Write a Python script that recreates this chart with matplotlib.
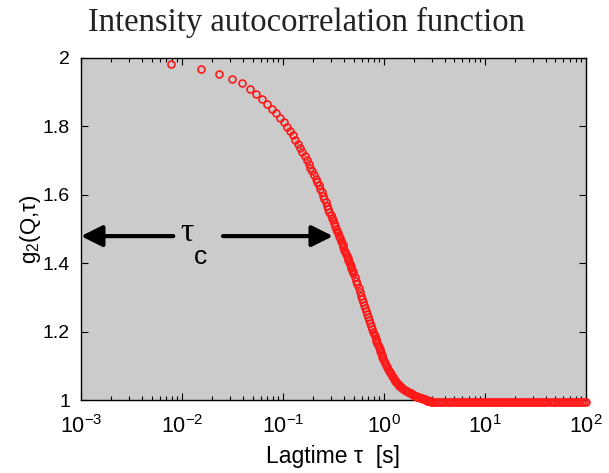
import matplotlib.pyplot as plt
from matplotlib.ticker import LogLocator, FixedLocator, FixedFormatter, NullLocator

plt.rcParams['font.family'] = ['Liberation Sans', 'DejaVu Sans']

# lag times (s) and g2 values
tau_a = [0.0078, 0.0156, 0.0234, 0.0312, 0.0390, 0.0468, 0.0546, 0.0624, 0.0702, 0.0780,
         0.0858, 0.0936, 0.1014, 0.1092, 0.1170, 0.1248, 0.1326, 0.1404, 0.1482, 0.1560,
         0.1638, 0.1716, 0.1794, 0.1872, 0.1950, 0.2028, 0.2106, 0.2184, 0.2262, 0.2340,
         0.2418, 0.2496, 0.2574, 0.2652, 0.2730, 0.2808, 0.2886, 0.2964, 0.3042, 0.3120,
         0.3198, 0.3276, 0.3354, 0.3432, 0.3510, 0.3588, 0.3666, 0.3744, 0.3822, 0.3900,
         0.3978, 0.4056, 0.4134, 0.4212, 0.4290, 0.4368, 0.4446, 0.4524, 0.4602, 0.4680,
         0.4758, 0.4836, 0.4914, 0.4992]
g2_a = [1.983, 1.967, 1.953, 1.939, 1.925, 1.909, 1.894, 1.879, 1.865, 1.851,
        1.838, 1.825, 1.811, 1.798, 1.786, 1.773, 1.760, 1.748, 1.736, 1.724,
        1.712, 1.701, 1.690, 1.679, 1.668, 1.658, 1.647, 1.637, 1.627, 1.617,
        1.607, 1.597, 1.587, 1.578, 1.568, 1.559, 1.550, 1.542, 1.533, 1.525,
        1.517, 1.509, 1.501, 1.494, 1.487, 1.480, 1.473, 1.466, 1.459, 1.452,
        1.446, 1.439, 1.433, 1.427, 1.421, 1.415, 1.409, 1.403, 1.397, 1.391,
        1.386, 1.380, 1.375, 1.370]

tau_b = [0.515, 0.530, 0.546, 0.562, 0.577, 0.593, 0.608, 0.624, 0.640, 0.655,
         0.671, 0.686, 0.702, 0.718, 0.733, 0.749, 0.764, 0.780, 0.796, 0.811,
         0.827, 0.842, 0.858, 0.874, 0.889, 0.905, 0.920, 0.936, 0.952, 0.967, 0.983]
g2_b = [1.359, 1.349, 1.338, 1.327, 1.316, 1.305, 1.296, 1.287, 1.278, 1.269,
        1.261, 1.252, 1.244, 1.235, 1.226, 1.217, 1.209, 1.200, 1.192, 1.186,
        1.179, 1.173, 1.167, 1.160, 1.154, 1.148, 1.143, 1.137, 1.131, 1.126, 1.121]

tau_c = [1.000, 1.025, 1.050, 1.075, 1.100, 1.125, 1.150, 1.175, 1.200, 1.225,
         1.250, 1.275, 1.300, 1.325, 1.350, 1.375, 1.400, 1.425, 1.450, 1.475,
         1.50, 1.55, 1.60, 1.65, 1.70, 1.75, 1.80, 1.85, 1.90, 1.95,
         2.00, 2.05, 2.10, 2.15, 2.20, 2.25, 2.30, 2.35, 2.40, 2.45,
         2.50, 2.55, 2.60, 2.65, 2.70, 2.75, 2.80, 2.85, 2.90, 2.95]
g2_c = [1.115, 1.109, 1.103, 1.097, 1.091, 1.086, 1.081, 1.076, 1.071, 1.067,
        1.063, 1.059, 1.056, 1.053, 1.050, 1.047, 1.044, 1.042, 1.040, 1.038,
        1.036, 1.033, 1.030, 1.028, 1.026, 1.024, 1.022, 1.020, 1.018, 1.016,
        1.014, 1.013, 1.011, 1.010, 1.009, 1.008, 1.007, 1.006, 1.005, 1.004,
        1.003, 1.002, 1.001, 1.000, 0.999, 0.999, 0.998, 0.997, 0.997, 0.996]

tau_d = [3.020, 3.162, 3.311, 3.467, 3.631, 3.802, 3.981, 4.169, 4.365, 4.571,
         4.786, 5.012, 5.248, 5.495, 5.754, 6.026, 6.310, 6.607, 6.918, 7.244,
         7.586, 7.943, 8.318, 8.710, 9.120, 9.550, 10.00, 10.47, 10.96, 11.48,
         12.02, 12.59, 13.18, 13.80, 14.45, 15.14, 15.85, 16.60, 17.38, 18.20,
         19.05, 19.95, 20.89, 21.88, 22.91, 23.99, 25.12, 26.30, 27.54, 28.84,
         30.20, 31.62, 33.11, 34.67, 36.31, 38.02, 39.81, 41.69, 43.65, 45.71,
         47.86, 50.12, 52.48, 54.95, 57.54, 60.26, 63.10, 66.07, 69.18, 72.44,
         75.86, 79.43, 83.18, 87.10, 91.20, 95.50, 100.0]
g2_d = [0.996, 0.996, 0.996, 0.996, 0.996, 0.996, 0.996, 0.996, 0.996, 0.996,
        0.996, 0.996, 0.996, 0.996, 0.996, 0.996, 0.996, 0.996, 0.996, 0.996,
        0.996, 0.996, 0.996, 0.996, 0.996, 0.996, 0.996, 0.996, 0.996, 0.996,
        0.996, 0.996, 0.996, 0.996, 0.996, 0.996, 0.996, 0.996, 0.996, 0.996,
        0.996, 0.996, 0.996, 0.996, 0.996, 0.996, 0.996, 0.996, 0.996, 0.996,
        0.996, 0.996, 0.996, 0.996, 0.996, 0.996, 0.996, 0.996, 0.996, 0.996,
        0.996, 0.996, 0.996, 0.996, 0.996, 0.996, 0.996, 0.996, 0.996, 0.996,
        0.996, 0.996, 0.996, 0.996, 0.996, 0.996, 0.996]

y_ticks = [1.0, 1.2, 1.4, 1.6, 1.8, 2.0]
y_ticklabels = ['1', '1.2', '1.4', '1.6', '1.8', '2']

tau = tau_a + tau_b + tau_c + tau_d
g2 = g2_a + g2_b + g2_c + g2_d

fig = plt.figure(figsize=(6.09, 4.73), dpi=100)
ax = fig.add_axes([0.133, 0.154, 0.829, 0.724])
ax.set_facecolor('#cbcbcb')

ax.plot(tau, g2, 'o', mfc='none', mec='#ff1a1a', ms=5, mew=1.2, clip_on=False, zorder=3)

ax.set_xscale('log')
ax.set_xlim(1e-3, 1e2)
ax.set_ylim(1, 2)
ax.xaxis.set_major_locator(LogLocator(base=10, numticks=10))
ax.xaxis.set_minor_locator(LogLocator(base=10, subs=range(2, 10), numticks=20))
ax.yaxis.set_major_locator(FixedLocator(y_ticks))
ax.yaxis.set_major_formatter(FixedFormatter(y_ticklabels))
ax.yaxis.set_minor_locator(NullLocator())

ax.tick_params(which='both', direction='in', top=True, right=True, width=0.8)
ax.tick_params(which='major', length=5)
ax.tick_params(which='minor', length=3)
ax.tick_params(axis='x', labelsize=15.5, pad=11)
ax.tick_params(axis='y', labelsize=14, pad=8)
for s in ax.spines.values():
    s.set_linewidth(1.0)

ax.set_xlabel('Lagtime τ  [s]', fontsize=16.5, labelpad=5)
ax.set_ylabel(r'g$_\mathregular{2}$(Q,τ)', fontsize=16, labelpad=0)

# tau_c arrows
arr = dict(arrowstyle='-|>,head_length=0.8,head_width=0.4', color='black',
           lw=3, mutation_scale=16, shrinkA=0, shrinkB=0)
ax.annotate('', xy=(1e-3, 1.479), xytext=(0.0082, 1.479), arrowprops=arr)
ax.annotate('', xy=(0.313, 1.479), xytext=(0.0255, 1.479), arrowprops=arr)
ax.text(0.0112, 1.488, 'τ', fontsize=24, family='Liberation Serif', ha='center', va='center')
ax.text(0.0151, 1.417, 'c', fontsize=19, ha='center', va='center')

fig.text(0.503, 0.934, 'Intensity autocorrelation function', fontsize=23.5,
         family='Liberation Serif', color='#222222', ha='center', va='baseline')

fig.savefig('out.png', dpi=100)
